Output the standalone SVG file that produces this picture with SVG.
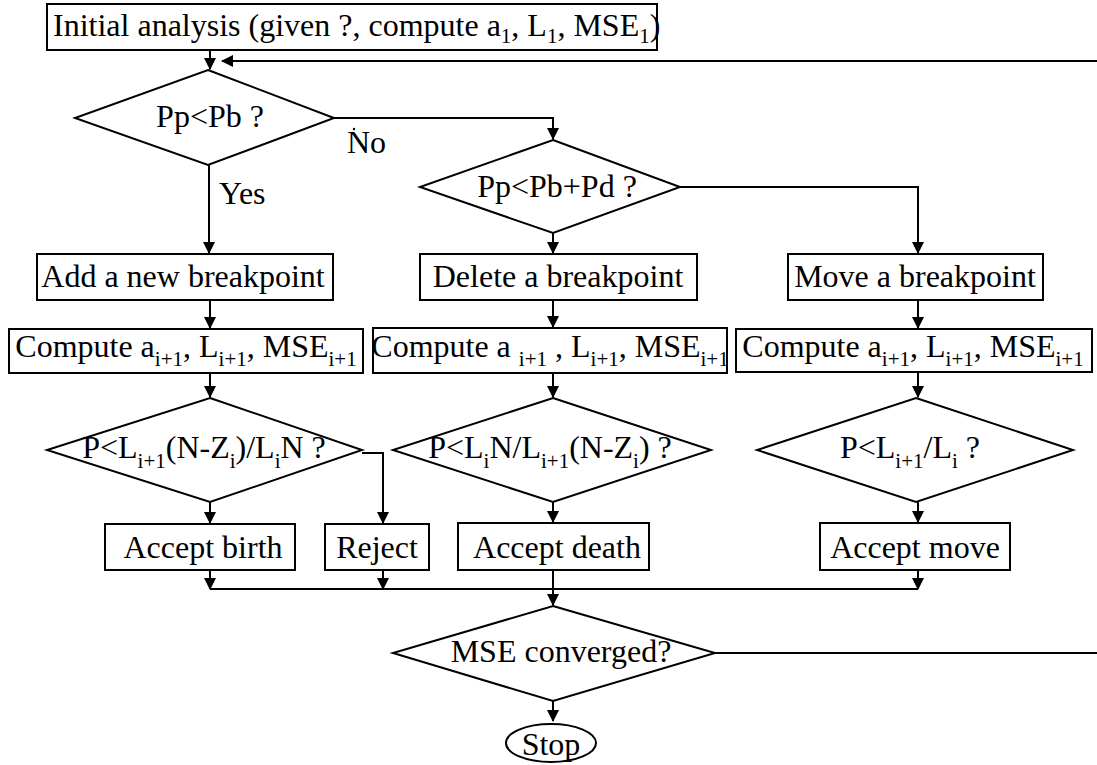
<svg xmlns="http://www.w3.org/2000/svg" width="1097" height="765" viewBox="0 0 1097 765">
<style>
.s{fill:#fff;stroke:#000;stroke-width:2}
.t{font-family:"Liberation Serif","Times New Roman",serif;font-size:32px;fill:#000}
.c{stroke:#000;stroke-width:2;fill:none}
.sub{font-size:21px}
</style>
<defs>
<marker id="ah" markerWidth="12" markerHeight="14" refX="11" refY="7" orient="auto" markerUnits="userSpaceOnUse">
<path d="M0,1 L12,7 L0,13 Z" fill="#000"/>
</marker>
</defs>
<rect width="1097" height="765" fill="#fff"/>
<g id="connectors">
<path class="c" d="M210,50 V69" marker-end="url(#ah)"/>
<path class="c" d="M1097,61 H222" marker-end="url(#ah)"/>
<path class="c" d="M209,165 V253" marker-end="url(#ah)"/>
<path class="c" d="M334,118 H553 V139" marker-end="url(#ah)"/>
<path class="c" d="M553,233 V253" marker-end="url(#ah)"/>
<path class="c" d="M680,187 H918 V253" marker-end="url(#ah)"/>
<path class="c" d="M210,300 V328" marker-end="url(#ah)"/>
<path class="c" d="M553,300 V327" marker-end="url(#ah)"/>
<path class="c" d="M918,300 V328" marker-end="url(#ah)"/>
<path class="c" d="M210,373 V397" marker-end="url(#ah)"/>
<path class="c" d="M553,373 V397" marker-end="url(#ah)"/>
<path class="c" d="M918,372 V397" marker-end="url(#ah)"/>
<path class="c" d="M210,502 V523" marker-end="url(#ah)"/>
<path class="c" d="M362,453 H383 V523" marker-end="url(#ah)"/>
<path class="c" d="M553,502 V522" marker-end="url(#ah)"/>
<path class="c" d="M918,502 V522" marker-end="url(#ah)"/>
<path class="c" d="M210,570 V589" marker-end="url(#ah)"/>
<path class="c" d="M383,570 V589" marker-end="url(#ah)"/>
<path class="c" d="M918,570 V589" marker-end="url(#ah)"/>
<path class="c" d="M210,589 H918"/>
<path class="c" d="M553,570 V605" marker-end="url(#ah)"/>
<path class="c" d="M553,701 V721" marker-end="url(#ah)"/>
<path class="c" d="M715,653 H1097"/>
<text class="t" x="219" y="204">Yes</text>
<text class="t" x="347" y="153">No</text>
<circle cx="354" cy="129" r="1.2" fill="#000"/>
</g>
<g id="init">
<rect class="s" x="47" y="4" width="610" height="46"/>
<text class="t" x="53" y="36">Initial analysis (given ?, compute a<tspan class="sub" dy="7">1</tspan><tspan dy="-7">, L</tspan><tspan class="sub" dy="7">1</tspan><tspan dy="-7">, MSE</tspan><tspan class="sub" dy="7">1</tspan><tspan dy="-7">)</tspan></text>
</g>
<g id="d1">
<polygon class="s" points="208,70 334,118 208,165 75,118"/>
<text class="t" x="210" y="127" text-anchor="middle">Pp&lt;Pb ?</text>
</g>
<g id="d2">
<polygon class="s" points="553,140 680,187 553,233 420,187"/>
<text class="t" x="557" y="197" text-anchor="middle">Pp&lt;Pb+Pd ?</text>
</g>
<g id="add">
<rect class="s" x="37" y="254" width="296" height="46"/>
<text class="t" x="183" y="287" text-anchor="middle">Add a new breakpoint</text>
</g>
<g id="delete">
<rect class="s" x="420" y="254" width="277" height="46"/>
<text class="t" x="558" y="287" text-anchor="middle">Delete a breakpoint</text>
</g>
<g id="move">
<rect class="s" x="788" y="254" width="255" height="46"/>
<text class="t" x="915" y="287" text-anchor="middle">Move a breakpoint</text>
</g>
<g id="compute1">
<rect class="s" x="9" y="329" width="354" height="44"/>
<text class="t" x="186" y="357" text-anchor="middle">Compute a<tspan class="sub" dy="9">i+1</tspan><tspan dy="-9">, L</tspan><tspan class="sub" dy="9">i+1</tspan><tspan dy="-9">, MSE</tspan><tspan class="sub" dy="9">i+1</tspan></text>
</g>
<g id="compute2">
<rect class="s" x="373" y="328" width="354" height="45"/>
<text class="t" x="550" y="357" text-anchor="middle">Compute a <tspan class="sub" dy="9">i+1</tspan><tspan dy="-9"> , L</tspan><tspan class="sub" dy="9">i+1</tspan><tspan dy="-9">, MSE</tspan><tspan class="sub" dy="9">i+1</tspan></text>
</g>
<g id="compute3">
<rect class="s" x="736" y="329" width="356" height="43"/>
<text class="t" x="913" y="357" text-anchor="middle">Compute a<tspan class="sub" dy="9">i+1</tspan><tspan dy="-9">, L</tspan><tspan class="sub" dy="9">i+1</tspan><tspan dy="-9">, MSE</tspan><tspan class="sub" dy="9">i+1</tspan></text>
</g>
<g id="d3a">
<polygon class="s" points="210,398 362,450 210,502 47,450"/>
<text class="t" x="204" y="458" text-anchor="middle">P&lt;L<tspan class="sub" dy="10">i+1</tspan><tspan dy="-10">(N-Z</tspan><tspan class="sub" dy="10">i</tspan><tspan dy="-10">)/L</tspan><tspan class="sub" dy="10">i</tspan><tspan dy="-10">N  ?</tspan></text>
</g>
<g id="d3b">
<polygon class="s" points="553,398 711,450 553,502 393,450"/>
<text class="t" x="550" y="458" text-anchor="middle">P&lt;L<tspan class="sub" dy="10">i</tspan><tspan dy="-10">N/L</tspan><tspan class="sub" dy="10">i+1</tspan><tspan dy="-10">(N-Z</tspan><tspan class="sub" dy="10">i</tspan><tspan dy="-10">) ?</tspan></text>
</g>
<g id="d3c">
<polygon class="s" points="916,398 1073,450 916,502 757,450"/>
<text class="t" x="910" y="458" text-anchor="middle">P&lt;L<tspan class="sub" dy="10">i+1</tspan><tspan dy="-10">/L</tspan><tspan class="sub" dy="10">i</tspan><tspan dy="-10"> ?</tspan></text>
</g>
<g id="birth">
<rect class="s" x="105" y="524" width="190" height="46"/>
<text class="t" x="203" y="558" text-anchor="middle">Accept birth</text>
</g>
<g id="reject">
<rect class="s" x="325" y="524" width="104" height="46"/>
<text class="t" x="377" y="558" text-anchor="middle">Reject</text>
</g>
<g id="death">
<rect class="s" x="458" y="523" width="191" height="47"/>
<text class="t" x="557" y="558" text-anchor="middle">Accept death</text>
</g>
<g id="movea">
<rect class="s" x="820" y="523" width="190" height="47"/>
<text class="t" x="915" y="558" text-anchor="middle">Accept move</text>
</g>
<g id="d4">
<polygon class="s" points="553,606 715,653 553,701 393,653"/>
<text class="t" x="561" y="662" text-anchor="middle">MSE converged?</text>
</g>
<g id="stop">
<ellipse class="s" cx="551" cy="743" rx="45" ry="19"/>
<text class="t" x="551" y="755" text-anchor="middle">Stop</text>
</g>
</svg>
